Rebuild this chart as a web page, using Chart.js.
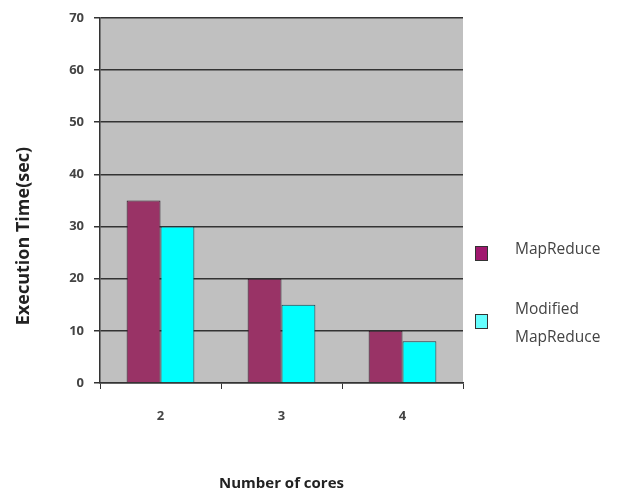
<!DOCTYPE html>
<html>
<head>
<meta charset="utf-8">
<script src="https://cdn.jsdelivr.net/npm/chart.js@4.4.0/dist/chart.umd.min.js"></script>
<style>
  html, body { margin: 0; padding: 0; background: #fff; }
  #wrap { width: 622px; height: 493px; }
</style>
</head>
<body>
<div id="wrap"><canvas id="chart" width="622" height="493"></canvas></div>
<script>
// data
const cores = ['2', '3', '4'];
const mapReduce = [35, 20, 10];
const modifiedMapReduce = [30, 15, 8];
const seriesNames = ['MapReduce', ['Modified', 'MapReduce']];
const yTitle = 'Execution Time(sec)';

const tickFont = { family: 'Open Sans', size: 13, weight: 'bold' };

// gray plot background
const plotBg = {
  id: 'plotBg',
  beforeDraw(chart) {
    const { ctx, chartArea: a } = chart;
    ctx.save();
    ctx.fillStyle = '#c0c0c0';
    ctx.fillRect(a.left, a.top, a.right - a.left, a.bottom - a.top);
    ctx.restore();
  }
};

// y title sits a bit below the middle of the axis in the original
const yTitlePlugin = {
  id: 'yTitlePlugin',
  afterDraw(chart) {
    const { ctx } = chart;
    ctx.save();
    ctx.translate(24, 236);
    ctx.rotate(-Math.PI / 2);
    ctx.font = 'bold 18px "Open Sans"';
    ctx.fillStyle = '#222';
    ctx.textAlign = 'center';
    ctx.textBaseline = 'middle';
    ctx.fillText(yTitle, 0, 0);
    ctx.restore();
  }
};

// legend on the right, two-line label for second series
const sideLegend = {
  id: 'sideLegend',
  afterDraw(chart) {
    const { ctx } = chart;
    const rows = [
      { y: 254, sq: '#a0186e', lines: [250] },
      { y: 322, sq: '#66ffff', lines: [310, 338] }
    ];
    ctx.save();
    ctx.font = '15.5px "Open Sans"';
    ctx.textBaseline = 'middle';
    chart.data.datasets.forEach((ds, i) => {
      const r = rows[i];
      ctx.fillStyle = r.sq;
      ctx.fillRect(475.5, r.y - 7.5, 12, 14);
      ctx.strokeStyle = '#333';
      ctx.lineWidth = 1;
      ctx.strokeRect(475.5, r.y - 7.5, 12, 14);
      const txt = [].concat(ds.label);
      ctx.fillStyle = '#444';
      txt.forEach((t, j) => ctx.fillText(t, 515, r.lines[j]));
    });
    ctx.restore();
  }
};

new Chart(document.getElementById('chart'), {
  type: 'bar',
  data: {
    labels: cores,
    datasets: [
      {
        label: seriesNames[0],
        data: mapReduce,
        backgroundColor: '#993366',
        borderColor: '#2a1a24',
        borderWidth: 1,
        categoryPercentage: 0.56,
        barPercentage: 1
      },
      {
        label: seriesNames[1],
        data: modifiedMapReduce,
        backgroundColor: '#00ffff',
        borderColor: '#1f3a44',
        borderWidth: 1,
        categoryPercentage: 0.56,
        barPercentage: 1
      }
    ]
  },
  options: {
    responsive: false,
    animation: false,
    layout: { padding: { left: 0, top: 12, right: 159, bottom: 0 } },
    plugins: {
      legend: { display: false },
      tooltip: { enabled: false }
    },
    scales: {
      x: {
        offset: true,
        grid: {
          display: true,
          offset: true,
          drawOnChartArea: false,
          drawTicks: true,
          tickLength: 6,
          color: '#333'
        },
        border: { display: true, color: '#333', width: 1.5 },
        ticks: { color: '#444', font: tickFont, padding: 19 },
        title: {
          display: true,
          text: 'Number of cores',
          color: '#222',
          font: { family: 'Open Sans', size: 15, weight: 'bold' },
          padding: { top: 0, bottom: 0 }
        },
        afterFit(s) { s.height = 110; }
      },
      y: {
        min: 0,
        max: 70,
        ticks: { stepSize: 10, color: '#444', font: tickFont, padding: 10 },
        grid: { color: '#333', lineWidth: 1.5, tickLength: 6 },
        border: { display: true, color: '#333', width: 1.5 },
        afterFit(s) { s.width = 100; }
      }
    }
  },
  plugins: [plotBg, yTitlePlugin, sideLegend]
});
</script>
</body>
</html>
